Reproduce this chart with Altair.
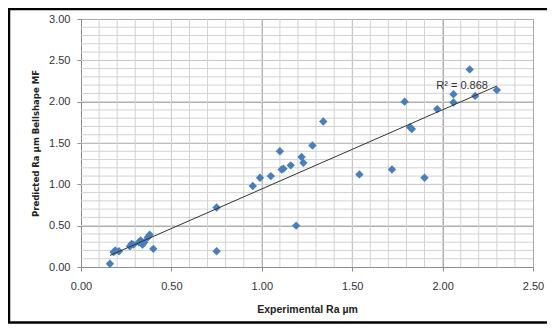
import altair as alt
import pandas as pd

# Measured points (Experimental Ra, Predicted Ra)
exp_ra = [0.16, 0.18, 0.19, 0.21, 0.27, 0.28, 0.29, 0.32, 0.33, 0.34, 0.35, 0.37, 0.38, 0.40,
          0.75, 0.75, 0.95, 0.99, 1.05, 1.10, 1.11, 1.12, 1.16, 1.19, 1.22, 1.23, 1.28, 1.34,
          1.54, 1.72, 1.79, 1.82, 1.83, 1.90, 1.97, 2.06, 2.06, 2.15, 2.18, 2.30]
pred_ra = [0.04, 0.18, 0.20, 0.19, 0.25, 0.28, 0.27, 0.30, 0.32, 0.27, 0.30, 0.36, 0.39, 0.22,
           0.72, 0.19, 0.98, 1.08, 1.10, 1.40, 1.18, 1.19, 1.23, 0.50, 1.33, 1.26, 1.47, 1.76,
           1.12, 1.18, 2.00, 1.69, 1.67, 1.08, 1.91, 2.09, 1.99, 2.39, 2.07, 2.14]

x_major = [0.0, 0.5, 1.0, 1.5, 2.0, 2.5]
y_major = [0.0, 0.5, 1.0, 1.5, 2.0, 2.5, 3.0]
x_minor = [round(i * 0.1, 1) for i in range(1, 25)]
y_minor = [round(i * 0.1, 1) for i in range(1, 30)]

r2_label = ["R\u00b2 = 0.868"]
r2_x = [1.965]
r2_y = [2.19]

df = pd.DataFrame({"x": exp_ra, "y": pred_ra})

xs = alt.Scale(domain=[0, 2.5], nice=False, zero=False)
ys = alt.Scale(domain=[0, 3.0], nice=False, zero=False)

FONT = "Liberation Sans"

x_axis = alt.Axis(
    values=x_major, format=".2f", title="Experimental Ra \u00b5m",
    grid=True, gridColor="#a8a8a8", tickSize=4, tickColor="#8c8c8c",
    domainColor="#8c8c8c", labelFont=FONT, labelFontSize=11, labelColor="#333333",
    labelPadding=9, labelFlush=False, labelOverlap=False,
    titleFont=FONT, titleFontSize=10.5, titleFontWeight="bold",
    titleColor="#222222", titlePadding=13)
y_axis = alt.Axis(
    values=y_major, format=".2f", title="Predicted Ra \u00b5m Bellshape MF",
    grid=True, gridColor="#a8a8a8", tickSize=4, tickColor="#8c8c8c",
    domainColor="#8c8c8c", labelFont=FONT, labelFontSize=11, labelColor="#333333",
    labelPadding=7, labelFlush=False, labelOverlap=False,
    titleFont="Liberation Sans Narrow, DejaVu Sans Condensed, sans-serif",
    titleFontSize=9.5, titleFontWeight="bold", titleColor="#222222", titlePadding=8)

minor_x = alt.Chart(pd.DataFrame({"x": x_minor})).mark_rule(
    color="#d2d2d2", strokeWidth=1
).encode(x=alt.X("x:Q", scale=xs, axis=x_axis))

minor_y = alt.Chart(pd.DataFrame({"y": y_minor})).mark_rule(
    color="#d2d2d2", strokeWidth=1
).encode(y=alt.Y("y:Q", scale=ys, axis=y_axis))

points = alt.Chart(df).mark_point(
    shape="diamond", filled=True, size=70, color="#4a7ebb", opacity=1
).encode(
    x=alt.X("x:Q", scale=xs, axis=x_axis),
    y=alt.Y("y:Q", scale=ys, axis=y_axis),
)

trend = alt.Chart(df).transform_regression("x", "y", method="linear").mark_line(
    color="#333333", strokeWidth=1
).encode(x=alt.X("x:Q", scale=xs, axis=x_axis), y=alt.Y("y:Q", scale=ys, axis=y_axis))

label = alt.Chart(pd.DataFrame({"x": r2_x, "y": r2_y, "t": r2_label})).mark_text(
    align="left", baseline="middle", font=FONT, fontSize=11, color="#333333"
).encode(x=alt.X("x:Q", scale=xs, axis=x_axis), y=alt.Y("y:Q", scale=ys, axis=y_axis),
         text="t:N")

border = alt.Chart(pd.DataFrame({"a": [0]})).mark_rect(
    filled=False, stroke="#000000", strokeWidth=2.5
).encode(
    x=alt.value(-72), x2=alt.value(485), y=alt.value(-10), y2=alt.value(303.5)
)

chart = alt.layer(minor_x, minor_y, points, trend, label, border).properties(
    width=452, height=248,
    autosize=alt.AutoSizeParams(type="none"),
    padding={"left": 73, "top": 11, "right": 14, "bottom": 57},
    background="white",
).configure_view(stroke="#a8a8a8", strokeWidth=1)

chart.save("out.html", embed_options={"renderer": "svg", "actions": False})
